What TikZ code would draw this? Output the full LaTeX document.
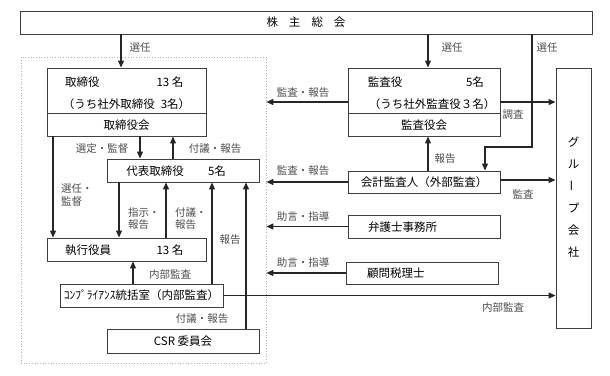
\documentclass[tikz,border=0pt]{standalone}
\usepackage{fontspec}
\setmainfont{Noto Sans CJK JP}
\usetikzlibrary{arrows.meta,calc}
\begin{document}
\begin{tikzpicture}[x=1pt,y=-1pt,
  box/.style={draw=black!75,line width=0.9pt,inner sep=0pt,minimum height=23pt,font=\fontsize{11.5}{14}\selectfont},
  txt/.style={inner sep=0pt,font=\fontsize{11.5}{14}\selectfont},
  lab/.style={text=black!70,font=\fontsize{10.5}{12.5}\selectfont,inner sep=0pt},
  conn/.style={draw=black!85,line width=1.1pt},
  arr/.style={conn,-{Triangle[length=7pt,width=6pt]}},
  divline/.style={draw=black!75,line width=0.9pt}]
\useasboundingbox (0,0) rectangle (610,375);

% dotted area
\node[draw=black!30,dotted,line width=0.7pt,minimum width=245pt,minimum height=306pt,inner sep=0pt] (area) at (143.5,210) {};

% shareholders
\node[box,minimum width=572pt] (sh) at (306,22.5) {株\hspace{11pt}主\hspace{11pt}総\hspace{11pt}会};

% board
\node[box,minimum width=159pt,minimum height=68pt] (tori) at (126.5,102) {};
\draw[divline] ($(tori.north west)+(0,46)$) -- ($(tori.north east)+(0,46)$);
\node[txt,anchor=west] (tori1) at (65,82) {取締役};
\node[txt] (tori2) at (170,82) {13 名};
\node[txt] (tori3) at (126.5,104) {（うち社外取締役\hspace{6pt}3名）};
\node[txt] (tori4) at (126.5,125.5) {取締役会};

% representative
\node[box,minimum width=152pt] (dai) at (183,170.5) {};
\node[txt] (dai1) at (155,171) {代表取締役};
\node[txt] (dai2) at (217,171) {5名};

% executive officers
\node[box,minimum width=159pt] (shikko) at (126.5,249.5) {};
\node[txt,anchor=west] (sk1) at (65,250) {執行役員};
\node[txt] (sk2) at (170,250) {13 名};

% compliance
\node[box,minimum width=163pt] (comp) at (141.5,295.5) {ｺﾝﾌﾟﾗｲｱﾝｽ統括室（内部監査）};

% CSR
\node[box,minimum width=152pt,minimum height=24pt] (csr) at (183,341) {CSR 委員会};

% auditors
\node[box,minimum width=152pt,minimum height=68pt] (kansa) at (424,102) {};
\draw[divline] ($(kansa.north west)+(0,46)$) -- ($(kansa.north east)+(0,46)$);
\node[txt] (ka1) at (385,82) {監査役};
\node[txt] (ka2) at (475,82) {5名};
\node[txt] (ka3) at (432,104) {（うち社外監査役３名）};
\node[txt] (ka4) at (424,125.5) {監査役会};

% accounting auditor
\node[box,minimum width=152pt,minimum height=22pt] (kaikei) at (424,182) {会計監査人（外部監査）};

% lawyers
\node[box,minimum width=152pt] (bengo) at (424,226.5) {};
\node[txt,anchor=west] (be1) at (368,227) {弁護士事務所};

% tax advisor
\node[box,minimum width=152pt,minimum height=22pt] (komon) at (422,273) {};
\node[txt,anchor=west] (ko1) at (367,273.5) {顧問税理士};

% group companies
\node[box,minimum width=35pt,minimum height=260pt] (grp) at (573.5,198) {};
\node[txt] (g1) at (573.5,142) {グ};
\node[txt] (g2) at (573.5,164) {ル};
\node[txt,rotate=90] (g3) at (573.5,186) {ー};
\node[txt] (g4) at (573.5,208) {プ};
\node[txt] (g5) at (573.5,230) {会};
\node[txt] (g6) at (573.5,252) {社};

% coordinates for connectors
\coordinate (xa) at (121,0);
\coordinate (xb) at (428,0);
\coordinate (c3) at (532,147);
\coordinate (c4) at (485,147);
\coordinate (xd) at (140,0);
\coordinate (xe) at (173,0);
\coordinate (xf) at (53,0);
\coordinate (xg) at (119,0);
\coordinate (xh) at (166,0);
\coordinate (xi) at (212,0);
\coordinate (xj) at (246,0);
\coordinate (xk) at (133,0);

% connectors
\draw[arr] (sh.south -| xa) -- (tori.north -| xa);
\draw[arr] (sh.south -| xb) -- (kansa.north -| xb);
\draw[arr] (sh.south -| c3) -- (c3) -- (c4) -- (kaikei.north -| c4);
\draw[arr] (tori.south -| xd) -- (dai.north -| xd);
\draw[arr] (dai.north -| xe) -- (tori.south -| xe);
\draw[arr] (tori.south -| xf) -- (shikko.north -| xf);
\draw[arr] (dai.south -| xg) -- (shikko.north -| xg);
\draw[arr] (shikko.north -| xh) -- (dai.south -| xh);
\draw[arr] (comp.north -| xi) -- (dai.south -| xi);
\draw[arr] (csr.north -| xj) -- (dai.south -| xj);
\draw[arr] (comp.north -| xk) -- (shikko.south -| xk);
\draw[arr] (comp.east) -- (comp.east -| grp.west);
\draw[arr] (kansa.west) -- (kansa.west -| area.east);
\draw[arr] (kaikei.west) -- (kaikei.west -| area.east);
\draw[arr] (bengo.west) -- (bengo.west -| area.east);
\draw[arr] (komon.west) -- (komon.west -| area.east);
\draw[arr] (kansa.east) -- (kansa.east -| grp.west);
\draw[arr] ($(kaikei.east)+(0,-2)$) -- ($(kaikei.east -| grp.west)+(0,-2)$);
\draw[arr] (kaikei.north -| xb) -- (kansa.south -| xb);

% labels
\node[lab] (l1) at (140,48) {選任};
\node[lab] (l2) at (452,48) {選任};
\node[lab] (l3) at (547,48) {選任};
\node[lab] (l4) at (102,149) {選定・監督};
\node[lab] (l5) at (215,149) {付議・報告};
\node[lab,anchor=west,align=left] (l6) at (61,195) {選任・\\監督};
\node[lab,anchor=west,align=left] (l7) at (128,218.5) {指示・\\報告};
\node[lab,anchor=west,align=left] (l8) at (175,218.5) {付議・\\報告};
\node[lab] (l9) at (230,240) {報告};
\node[lab] (l10) at (170,275) {内部監査};
\node[lab] (l11) at (202,319) {付議・報告};
\node[lab] (l12) at (303,93) {監査・報告};
\node[lab] (l13) at (303,171) {監査・報告};
\node[lab] (l14) at (303,217) {助言・指導};
\node[lab] (l15) at (303,263) {助言・指導};
\node[lab] (l16) at (513,115) {調査};
\node[lab] (l17) at (445,159) {報告};
\node[lab] (l18) at (523,194) {監査};
\node[lab] (l19) at (503,308) {内部監査};
\end{tikzpicture}
\end{document}
